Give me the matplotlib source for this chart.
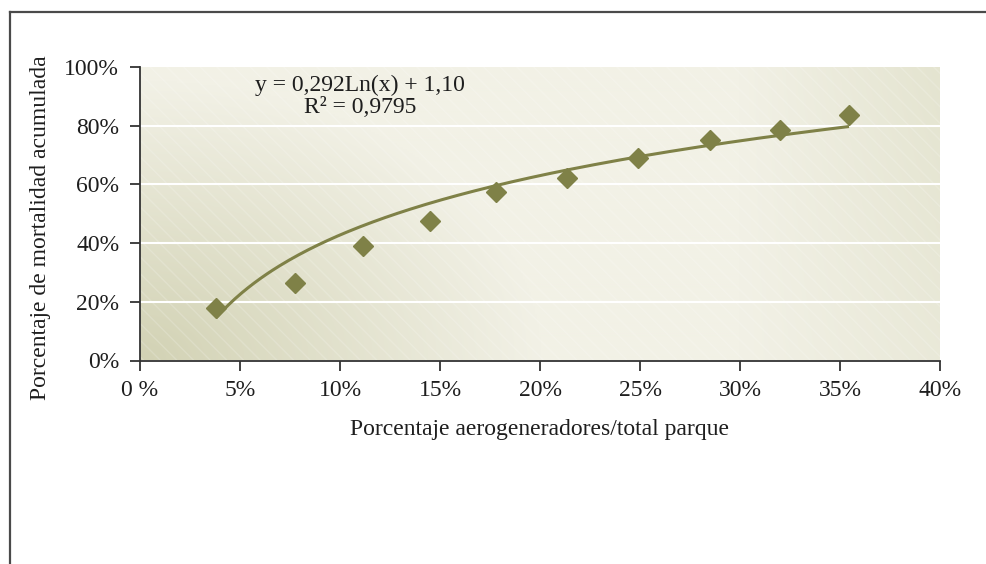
import numpy as np
import matplotlib
matplotlib.use("Agg")
import matplotlib.pyplot as plt
from matplotlib.lines import Line2D
from matplotlib.patches import Rectangle

# ---- data (percent) ----
x_vals = [3.8, 7.76, 11.13, 14.5, 17.8, 21.36, 24.9, 28.5, 31.98, 35.45]
y_vals = [17.8, 26.3, 39.1, 47.6, 57.3, 62.2, 69.0, 75.0, 78.4, 83.8]
trend_a = 0.292
trend_b = 1.10
x_ticks = [0, 5, 10, 15, 20, 25, 30, 35, 40]
x_tick_labels = ["0 %", "5%", "10%", "15%", "20%", "25%", "30%", "35%", "40%"]
y_ticks = [0, 20, 40, 60, 80, 100]
y_tick_labels = ["0%", "20%", "40%", "60%", "80%", "100%"]
eq_text = "y = 0,292Ln(x) + 1,10"
r2_text = "R² = 0,9795"
x_label = "Porcentaje aerogeneradores/total parque"
y_label = "Porcentaje de mortalidad acumulada"

plt.rcParams['font.family'] = ['Liberation Serif', 'DejaVu Serif']
olive = '#7f8147'
txt = '#1e1e1e'
fs = 17

fig = plt.figure(figsize=(9.86, 5.64), dpi=100)
ax = fig.add_axes([140/986, 1-360.5/564, 800/986, (360.5-67)/564])
ax.set_xlim(0, 40)
ax.set_ylim(0, 100)

# gradient background
nx, ny = 400, 150
u = np.linspace(0, 1, nx)[None, :]
v = np.linspace(0, 1, ny)[:, None]
light = np.array([242, 241, 230]) / 255.0
dark = np.array([210, 210, 180]) / 255.0
right = np.array([228, 228, 208]) / 255.0
d1 = np.clip(1 - np.sqrt((u / 0.5) ** 2 + (v / 0.95) ** 2), 0, 1) ** 1.0
d2 = np.clip((u - 0.75) / 0.25, 0, 1) * (0.6 + 0.4 * v)
img = light[None, None, :] * np.ones((ny, nx, 1))
img = img * (1 - d2[..., None]) + right[None, None, :] * d2[..., None]
img = img * (1 - d1[..., None]) + dark[None, None, :] * d1[..., None]
ax.imshow(img, extent=[0, 40, 0, 100], origin='lower', aspect='auto', zorder=0)
ax.add_patch(Rectangle((0, 0), 40, 100, facecolor='none', edgecolor=(1, 1, 1, 0.18),
                       hatch='\\\\', linewidth=0, zorder=0.5))

for yt in y_ticks[1:-1]:
    ax.axhline(yt, color='white', lw=1.5, zorder=1)

# trendline
xt = np.linspace(min(x_vals), max(x_vals), 200)
yt_line = (trend_a * np.log(xt / 100.0) + trend_b) * 100
ax.plot(xt, yt_line, color=olive, lw=2.2, zorder=2, solid_capstyle='butt')
ax.plot(x_vals, y_vals, linestyle='none', marker='D', markersize=10.5, color=olive, zorder=3)

for s in ['top', 'right']:
    ax.spines[s].set_visible(False)
for s in ['left', 'bottom']:
    ax.spines[s].set_color('#333333')
    ax.spines[s].set_linewidth(1.3)

ax.set_xticks(x_ticks)
ax.set_xticklabels(x_tick_labels)
ax.set_yticks(y_ticks)
ax.set_yticklabels(y_tick_labels)
ax.tick_params(axis='both', direction='out', length=7, width=1.3, color='#333333',
               labelsize=fs, labelcolor=txt)
ax.tick_params(axis='x', pad=7)
ax.tick_params(axis='y', pad=8)

ax.set_xlabel(x_label, fontsize=fs, color=txt, labelpad=13)
ax.set_ylabel(y_label, fontsize=fs, color=txt)
ax.yaxis.set_label_coords(-0.111, 0.452)

ax.text(0.275, 0.938, eq_text, transform=ax.transAxes, ha='center', va='center',
        fontsize=fs, color=txt, zorder=4)
ax.text(0.275, 0.862, r2_text, transform=ax.transAxes, ha='center', va='center',
        fontsize=fs, color=txt, zorder=4)

# outer frame (left and top)
fig.add_artist(Line2D([10/986, 10/986], [0, 1-12/564], color='#4a4a4a', lw=1.6))
fig.add_artist(Line2D([10/986, 1], [1-12/564, 1-12/564], color='#4a4a4a', lw=1.6))

fig.savefig('out.png', dpi=100)
